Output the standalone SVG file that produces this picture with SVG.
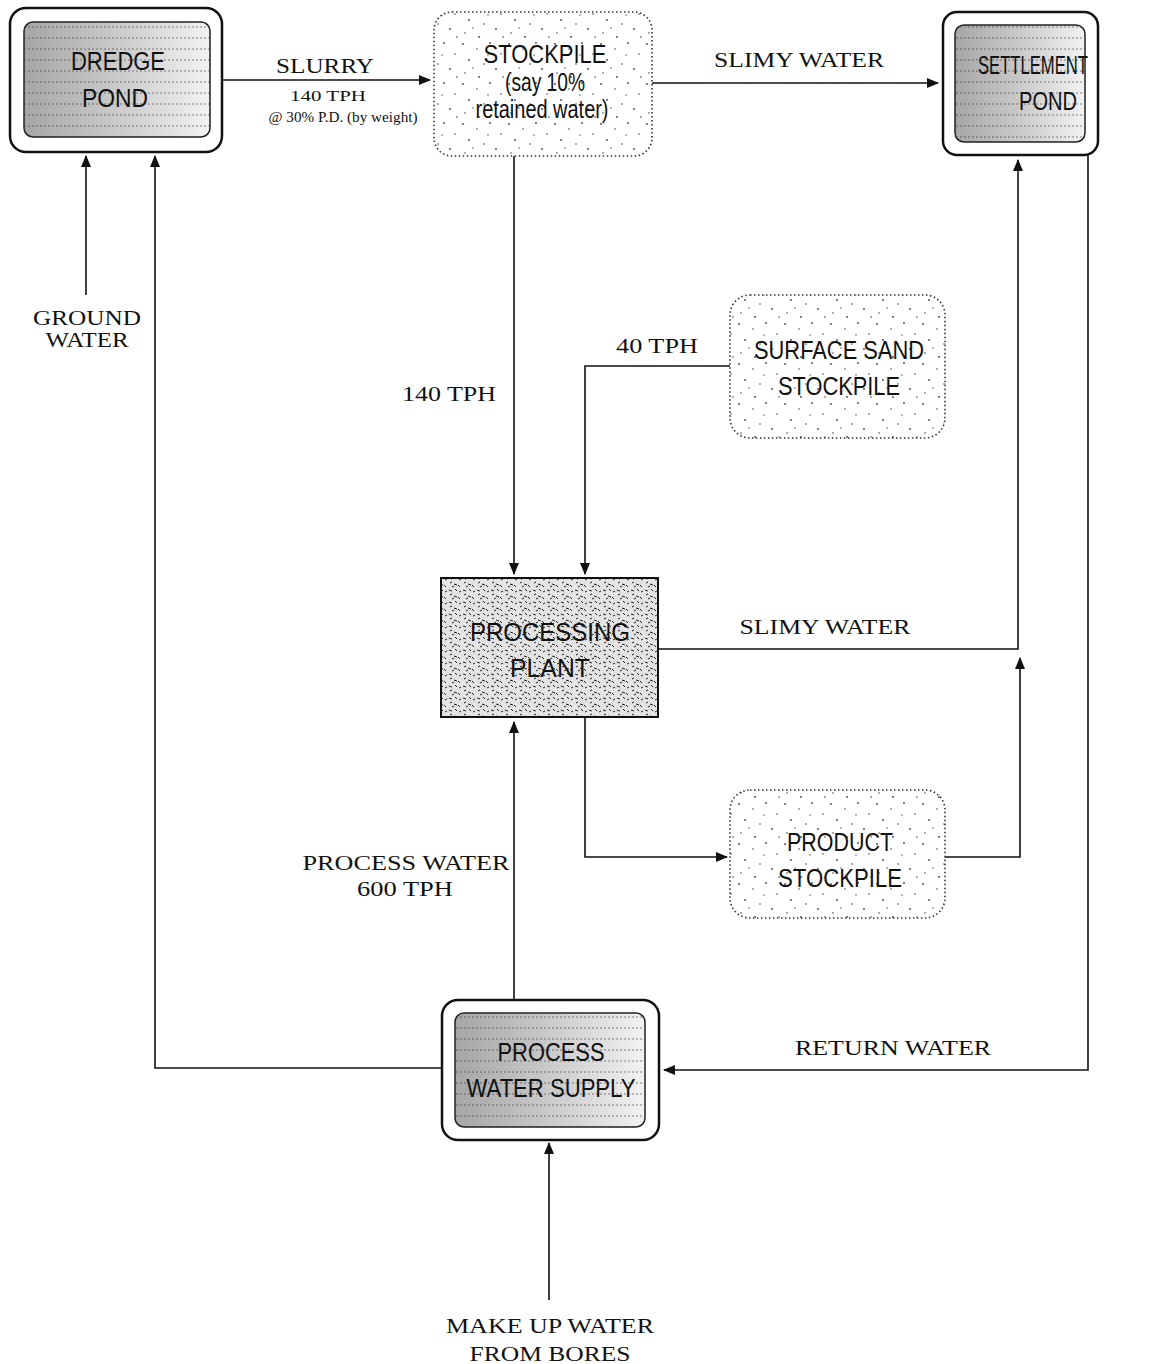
<svg xmlns="http://www.w3.org/2000/svg" width="1160" height="1364" viewBox="0 0 1160 1364">
<style>
.lbl{font-family:"Liberation Serif",serif;font-size:20px;fill:#111;text-anchor:middle}
.sm{font-family:"Liberation Serif",serif;fill:#111;text-anchor:middle}
.nt{font-family:"Liberation Sans",sans-serif;font-size:25px;fill:#111;text-anchor:middle}
.outer{fill:#fff;stroke:#111;stroke-width:2.5}
.inner{fill:url(#grad);stroke:#222;stroke-width:1.5}
.stock{fill:url(#stip);stroke:#333;stroke-width:1.6;stroke-dasharray:1.5 2.5}
.conn{fill:none;stroke:#111;stroke-width:1.6}
</style>
<defs>
<linearGradient id="grad" x1="0" y1="0" x2="1" y2="0">
<stop offset="0" stop-color="#a6a6a6"/>
<stop offset="0.5" stop-color="#cacaca"/>
<stop offset="1" stop-color="#f2f2f2"/>
</linearGradient>
<pattern id="lines" width="8" height="11" patternUnits="userSpaceOnUse">
<line x1="0" y1="5" x2="8" y2="5" stroke="#333" stroke-width="1.2" stroke-dasharray="2 2"/>
</pattern>
<pattern id="stip" width="46" height="40" patternUnits="userSpaceOnUse">
<rect width="46" height="40" fill="#fff"/>
<g fill="#444">
<circle cx="3" cy="4" r="0.9"/><circle cx="17" cy="9" r="0.8"/><circle cx="30" cy="3" r="0.9"/>
<circle cx="41" cy="14" r="0.8"/><circle cx="9" cy="20" r="0.9"/><circle cx="24" cy="24" r="0.8"/>
<circle cx="36" cy="29" r="0.9"/><circle cx="5" cy="33" r="0.8"/><circle cx="19" cy="37" r="0.9"/>
<circle cx="43" cy="37" r="0.8"/><circle cx="13" cy="28" r="0.7"/><circle cx="28" cy="15" r="0.7"/>
</g>
</pattern>
<pattern id="dense" width="14" height="12" patternUnits="userSpaceOnUse">
<rect width="14" height="12" fill="#e4e4e4"/>
<g stroke="#222" stroke-width="1" fill="none">
<path d="M1 2 l3 1"/><path d="M7 1 l2 2"/><path d="M11 4 l2 -1"/>
<path d="M2 7 l2 -1"/><path d="M6 8 l3 1"/><path d="M10 9 l2 2"/>
<path d="M4 11 l2 -1"/>
</g>
</pattern>
<marker id="arr" viewBox="0 0 12 10" refX="11" refY="5" markerWidth="12" markerHeight="10" markerUnits="userSpaceOnUse" orient="auto">
<path d="M0 0 L12 5 L0 10 Z" fill="#111"/>
</marker>
</defs>
<rect width="1160" height="1364" fill="#fff"/>

<g id="connectors">
<path class="conn" d="M222 80 H430" marker-end="url(#arr)"/>
<path class="conn" d="M652 83 H938" marker-end="url(#arr)"/>
<path class="conn" d="M86 295 V156" marker-end="url(#arr)"/>
<path class="conn" d="M442 1068 H155 V156" marker-end="url(#arr)"/>
<path class="conn" d="M514 156 V574" marker-end="url(#arr)"/>
<path class="conn" d="M730 366 H585 V574" marker-end="url(#arr)"/>
<path class="conn" d="M658 649 H1018 V160" marker-end="url(#arr)"/>
<path class="conn" d="M945 857 H1020 V658" marker-end="url(#arr)"/>
<path class="conn" d="M585 717 V857 H727" marker-end="url(#arr)"/>
<path class="conn" d="M514 1000 V722" marker-end="url(#arr)"/>
<path class="conn" d="M1088 155 V1070 H664" marker-end="url(#arr)"/>
<path class="conn" d="M549 1300 V1143" marker-end="url(#arr)"/>
</g>

<g id="labels">
<text class="lbl" x="325" y="73" textLength="98" lengthAdjust="spacingAndGlyphs">SLURRY</text>
<text class="sm" x="328" y="101" font-size="15" textLength="76" lengthAdjust="spacingAndGlyphs">140 TPH</text>
<text class="sm" x="343" y="122" font-size="14" textLength="149" lengthAdjust="spacingAndGlyphs">@ 30% P.D. (by weight)</text>
<text class="lbl" x="799" y="67" textLength="170" lengthAdjust="spacingAndGlyphs">SLIMY WATER</text>
<text class="lbl" x="87" y="325" textLength="108" lengthAdjust="spacingAndGlyphs">GROUND</text>
<text class="lbl" x="87" y="347" textLength="83" lengthAdjust="spacingAndGlyphs">WATER</text>
<text class="lbl" x="449" y="401" textLength="94" lengthAdjust="spacingAndGlyphs">140 TPH</text>
<text class="lbl" x="657" y="353" textLength="82" lengthAdjust="spacingAndGlyphs">40 TPH</text>
<text class="lbl" x="825" y="634" textLength="171" lengthAdjust="spacingAndGlyphs">SLIMY WATER</text>
<text class="lbl" x="406" y="870" textLength="207" lengthAdjust="spacingAndGlyphs">PROCESS WATER</text>
<text class="lbl" x="405" y="896" textLength="96" lengthAdjust="spacingAndGlyphs">600 TPH</text>
<text class="lbl" x="893" y="1055" textLength="196" lengthAdjust="spacingAndGlyphs">RETURN WATER</text>
<text class="lbl" x="550" y="1333" textLength="208" lengthAdjust="spacingAndGlyphs">MAKE UP WATER</text>
<text class="lbl" x="550" y="1361" textLength="161" lengthAdjust="spacingAndGlyphs">FROM BORES</text>
</g>

<g id="dredge-pond">
<rect class="outer" x="10" y="8" width="212" height="144" rx="16"/>
<rect class="inner" x="24" y="22" width="186" height="115" rx="9"/>
<rect x="24" y="22" width="186" height="115" rx="9" fill="url(#lines)" opacity="0.6"/>
<text class="nt" x="118" y="70" textLength="94" lengthAdjust="spacingAndGlyphs">DREDGE</text>
<text class="nt" x="115" y="107" textLength="66" lengthAdjust="spacingAndGlyphs">POND</text>
</g>

<g id="stockpile">
<rect class="stock" x="434" y="12" width="218" height="144" rx="18"/>
<text class="nt" x="545" y="63" font-size="22" textLength="123" lengthAdjust="spacingAndGlyphs">STOCKPILE</text>
<text class="nt" x="545" y="91" font-size="17" textLength="80" lengthAdjust="spacingAndGlyphs">(say 10%</text>
<text class="nt" x="542" y="118" font-size="17" textLength="133" lengthAdjust="spacingAndGlyphs">retained water)</text>
</g>

<g id="settlement-pond">
<rect class="outer" x="943" y="12" width="155" height="143" rx="14"/>
<rect class="inner" x="955" y="25" width="130" height="117" rx="9"/>
<rect x="955" y="25" width="130" height="117" rx="9" fill="url(#lines)" opacity="0.6"/>
<text class="nt" x="1033" y="74" textLength="110" lengthAdjust="spacingAndGlyphs">SETTLEMENT</text>
<text class="nt" x="1048" y="110" textLength="58" lengthAdjust="spacingAndGlyphs">POND</text>
</g>

<g id="surface-sand-stockpile">
<rect class="stock" x="730" y="295" width="215" height="143" rx="20"/>
<text class="nt" x="839" y="359" textLength="170" lengthAdjust="spacingAndGlyphs">SURFACE SAND</text>
<text class="nt" x="839" y="395" textLength="122" lengthAdjust="spacingAndGlyphs">STOCKPILE</text>
</g>

<g id="processing-plant">
<rect x="441" y="578" width="217" height="139" fill="url(#dense)" stroke="#111" stroke-width="2"/>
<text class="nt" x="550" y="641" textLength="160" lengthAdjust="spacingAndGlyphs">PROCESSING</text>
<text class="nt" x="550" y="677" textLength="80" lengthAdjust="spacingAndGlyphs">PLANT</text>
</g>

<g id="product-stockpile">
<rect class="stock" x="730" y="790" width="215" height="128" rx="20"/>
<text class="nt" x="840" y="851" textLength="106" lengthAdjust="spacingAndGlyphs">PRODUCT</text>
<text class="nt" x="840" y="887" textLength="124" lengthAdjust="spacingAndGlyphs">STOCKPILE</text>
</g>

<g id="process-water-supply">
<rect class="outer" x="442" y="1000" width="217" height="140" rx="16"/>
<rect class="inner" x="455" y="1013" width="190" height="114" rx="9"/>
<rect x="455" y="1013" width="190" height="114" rx="9" fill="url(#lines)" opacity="0.6"/>
<text class="nt" x="551" y="1061" textLength="107" lengthAdjust="spacingAndGlyphs">PROCESS</text>
<text class="nt" x="551" y="1097" textLength="169" lengthAdjust="spacingAndGlyphs">WATER SUPPLY</text>
</g>
</svg>
